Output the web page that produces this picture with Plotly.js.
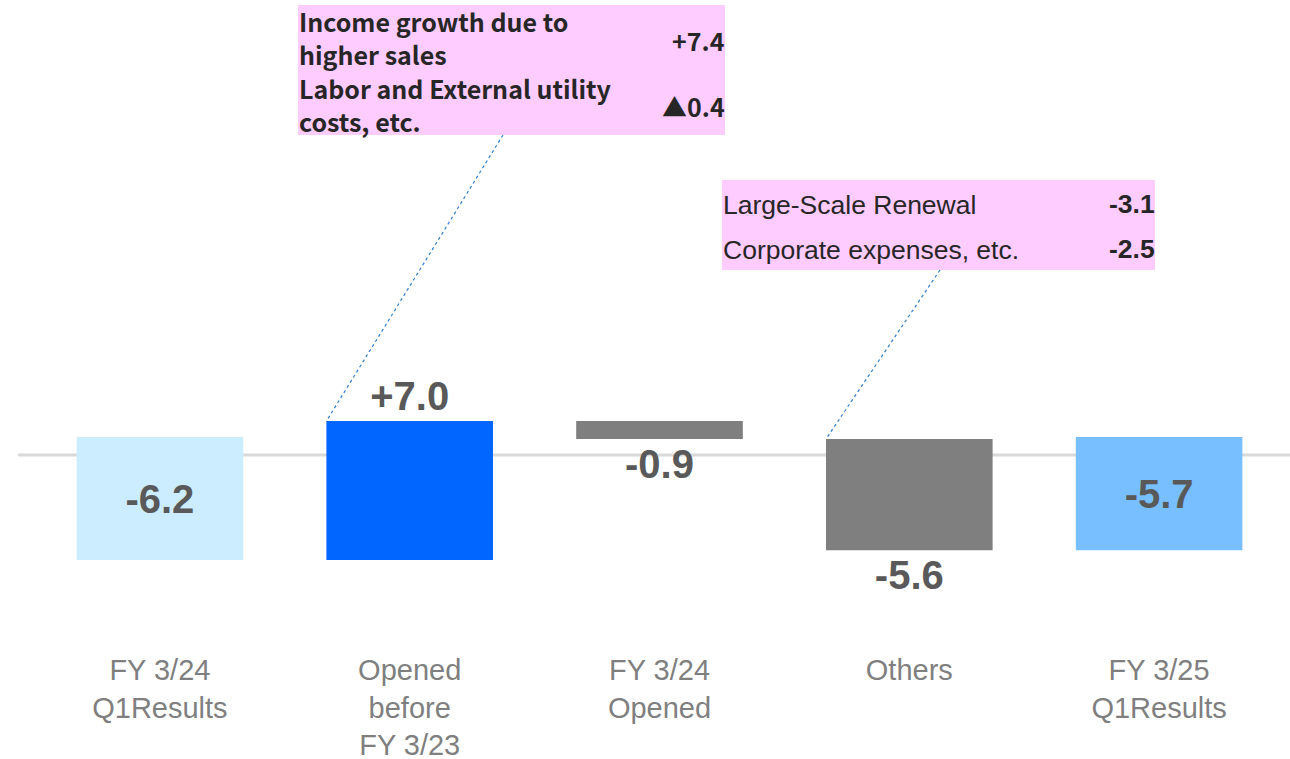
<!DOCTYPE html>
<html>
<head>
<meta charset="utf-8">
<script src="https://cdn.plot.ly/plotly-3.0.1.min.js"></script>
<style>
  html, body { margin: 0; padding: 0; background: #fff; }
  #chart { width: 1290px; height: 759px; }
</style>
</head>
<body>
<div id="chart"></div>
<script>
// Chart data
var categories = ["FY 3/24<br>Q1Results", "Opened<br>before<br>FY 3/23", "FY 3/24<br>Opened", "Others", "FY 3/25<br>Q1Results"];
var values = [-6.2, 7.0, -0.9, -5.6, -5.7];
var measures = ["absolute", "relative", "relative", "relative", "total"];
var valueLabels = ["-6.2", "+7.0", "-0.9", "-5.6", "-5.7"];
var barColors = ["#CCECFF", "#0066FF", "#7F7F7F", "#7F7F7F", "#77BFFF"];

// Breakdown boxes
var growthItems = ["Income growth due to<br>higher sales", "Labor and External utility<br>costs, etc."];
var growthValues = ["+7.4", "▲0.4"];
var othersItems = ["Large-Scale Renewal", "Corporate expenses, etc."];
var othersValues = ["-3.1", "-2.5"];

// waterfall bases from the values
var bases = [], heights = [], running = 0;
for (var i = 0; i < values.length; i++) {
    if (measures[i] == "absolute") {
        bases.push(0); heights.push(values[i]); running = values[i];
    } else if (measures[i] == "total") {
        bases.push(0); heights.push(running);
    } else {
        bases.push(running); heights.push(values[i]); running += values[i];
    }
}

// layout geometry
var W = 1290, H = 759;
var mL = 35, mR = 6, mT = 0, mB = 109;
var plotH = H - mT - mB;
var zeroPx = 437, pxPerUnit = 19.85;
var yMax = (zeroPx - mT) / pxPerUnit;
var yMin = -(plotH - (zeroPx - mT)) / pxPerUnit;
var barWidth = 0.667;

function px(x) { return (x - mL) / (W - mL - mR); }
function py(y) { return (H - mB - y) / plotH; }
function dx(v) { return (v + 0.5) / categories.length; }
function dy(v) { return (v - yMin) / (yMax - yMin); }

var data = [{
    type: "bar",
    x: categories,
    y: heights,
    base: bases,
    width: barWidth,
    marker: { color: barColors },
    text: valueLabels,
    textposition: ["inside", "outside", "outside", "outside", "inside"],
    insidetextanchor: "middle",
    constraintext: "none",
    cliponaxis: false,
    textfont: { family: "Arial, Liberation Sans", size: 40, color: "#595959", weight: "bold" },
    hoverinfo: "none"
}];

var boxFont = { family: "Noto Sans CJK JP", size: 25, color: "#262626" };
var box2Font = { family: "Arial, Liberation Sans", size: 26.5, color: "#262626" };

var annotations = [];
var growthY = [38, 104];
for (var i = 0; i < growthItems.length; i++) {
    annotations.push({ xref: "paper", yref: "paper", x: px(297), y: py(growthY[i]), xanchor: "left", yanchor: "middle",
        align: "left", text: "<b>" + growthItems[i] + "</b>", showarrow: false, font: boxFont });
    annotations.push({ xref: "paper", yref: "paper", x: px(727), y: py(growthY[i] + 2), xanchor: "right", yanchor: "middle",
        align: "right", text: "<b>" + growthValues[i] + "</b>", showarrow: false, font: boxFont });
}
var othersY = [205, 250];
for (var i = 0; i < othersItems.length; i++) {
    annotations.push({ xref: "paper", yref: "paper", x: px(721), y: py(othersY[i]), xanchor: "left", yanchor: "middle",
        align: "left", text: othersItems[i], showarrow: false, font: box2Font });
    annotations.push({ xref: "paper", yref: "paper", x: px(1157), y: py(othersY[i] - 1), xanchor: "right", yanchor: "middle",
        align: "right", text: "<b>" + othersValues[i] + "</b>", showarrow: false, font: box2Font });
}

// bar corners that the connectors point to
var top2 = bases[1] + heights[1];
var top4 = bases[3];

var layout = {
    width: W, height: H,
    margin: { l: mL, r: mR, t: mT, b: mB },
    paper_bgcolor: "#ffffff",
    plot_bgcolor: "rgba(0,0,0,0)",
    showlegend: false,
    xaxis: {
        type: "category", range: [-0.5, 4.5], showgrid: false, zeroline: false, showline: false,
        ticks: "", tickfont: { family: "Arial, Liberation Sans", size: 29, color: "#7F7F7F" }
    },
    yaxis: { range: [yMin, yMax], showgrid: false, zeroline: false, showline: false, showticklabels: false },
    shapes: [
        { type: "line", xref: "paper", yref: "paper", x0: px(18), x1: px(1290), y0: py(455), y1: py(455),
          line: { color: "#D9D9D9", width: 3 }, layer: "below" },
        { type: "rect", xref: "paper", yref: "paper", x0: px(298), x1: px(725), y0: py(5), y1: py(135),
          fillcolor: "#FFCCFF", line: { width: 0 } },
        { type: "rect", xref: "paper", yref: "paper", x0: px(722), x1: px(1155), y0: py(180), y1: py(270),
          fillcolor: "#FFCCFF", line: { width: 0 } },
        { type: "line", xref: "paper", yref: "paper", x0: px(503), y0: py(135), x1: dx(1 - barWidth / 2), y1: dy(top2),
          line: { color: "#2F7FD0", width: 1.2, dash: "dot" } },
        { type: "line", xref: "paper", yref: "paper", x0: px(940), y0: py(270), x1: dx(3 - barWidth / 2), y1: dy(top4),
          line: { color: "#2F7FD0", width: 1.2, dash: "dot" } }
    ],
    annotations: annotations
};

Plotly.newPlot("chart", data, layout, { displayModeBar: false, staticPlot: true });
</script>
</body>
</html>
